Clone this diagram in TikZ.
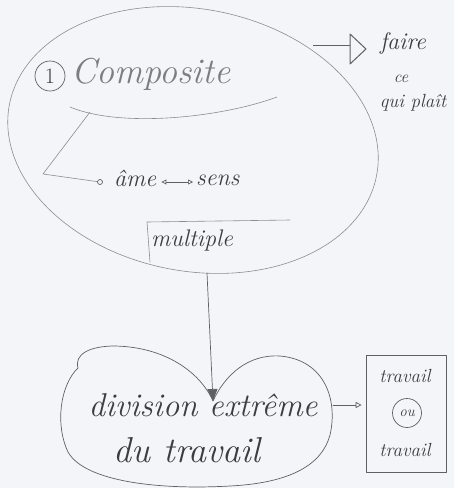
\documentclass[tikz,border=0pt]{standalone}
\usetikzlibrary{arrows.meta}
\definecolor{paper}{RGB}{244,245,249}
\definecolor{pencil}{RGB}{95,95,100}
\definecolor{lightpencil}{RGB}{140,140,145}
\definecolor{ink}{RGB}{60,60,65}
\tikzset{
  hand/.style={text=ink, font=\itshape, inner sep=1pt},
  stroke/.style={draw=pencil, line width=0.7pt, line cap=round, line join=round},
  faint/.style={draw=lightpencil, line width=0.6pt, line cap=round, line join=round},
}
\begin{document}
\begin{tikzpicture}[x=1pt,y=-1pt]
\fill[paper] (0,0) rectangle (454,488);
\useasboundingbox (0,0) rectangle (454,488);

% big tilted ellipse (major axis from upper left to lower right)
\draw[faint] plot[domain=0:360, samples=120, smooth cycle]
  ({193 + 187*cos(\x)*cos(11) - 131*sin(\x)*sin(11)},
   {140 + 187*cos(\x)*sin(11) + 131*sin(\x)*cos(11)});

% numbered title
\node[stroke, circle, minimum size=30pt, inner sep=0pt, hand, font=\fontsize{22}{22}\selectfont] (one) at (50,76) {1};
\node[hand, text=lightpencil!80!ink, font=\fontsize{36}{36}\selectfont\itshape, anchor=west] (comp) at (70,74) {Composite};
\draw[faint] (70,107) .. controls (120,128) and (220,118) .. (277,97);

% branch to âme <-> sens
\coordinate (ua) at (90,112);
\coordinate (bend) at (43,174);
\node[stroke, circle, minimum size=5pt, inner sep=0pt] (dot) at (100,182) {};
\draw[faint] (ua) -- (bend) -- (dot);
\node[hand, font=\fontsize{24}{24}\selectfont\itshape, anchor=west] (ame) at (113,178) {âme};
\node[hand, font=\fontsize{24}{24}\selectfont\itshape, anchor=west] (sens) at (195,180) {sens};
\draw[stroke, {Triangle[open,length=5pt,width=5pt]}-{Triangle[open,length=5pt,width=5pt]}] (ame.east) ++(4,4) coordinate (aa) -- ([xshift=-2pt]sens.west |- aa);

% multiple
\node[hand, font=\fontsize{24}{24}\selectfont\itshape, anchor=west] (mult) at (150,240) {multiple};
\draw[faint] (150,262) -- (147,222) -- (290,220);

% arrow down to the blob
\coordinate (ebot) at (207,273);
\coordinate (cleft) at (213,401);
\draw[stroke, -{Triangle[length=12pt,width=10pt,fill=pencil]}] (ebot) -- (cleft);

% bean shaped blob
\draw[stroke] (cleft) .. controls (200,372) and (165,347) .. (115,346)
  .. controls (90,346) and (74,354) .. (78,368)
  .. controls (60,385) and (55,425) .. (68,452)
  .. controls (85,482) and (160,490) .. (230,486)
  .. controls (290,483) and (322,465) .. (330,435)
  .. controls (338,400) and (325,360) .. (280,356)
  .. controls (248,354) and (225,375) .. (cleft);
\node[hand, font=\fontsize{33}{33}\selectfont\itshape] (div) at (203,405) {division extrême};
\node[hand, font=\fontsize{36}{36}\selectfont\itshape] (dut) at (187,450) {du travail};

% arrow to the right box
\coordinate (bright) at (333,405);
\node[stroke, minimum width=80pt, minimum height=117pt, inner sep=0pt] (tbox) at (406,414) {};
\draw[stroke, -{Triangle[open,length=6pt,width=6pt]}] (bright) -- ([xshift=-4pt]tbox.west |- bright);
\node[hand, font=\fontsize{19}{19}\selectfont\itshape] (t1) at (405,376) {travail};
\node[stroke, circle, minimum size=29pt, inner sep=0pt, hand, font=\fontsize{15}{15}\selectfont\itshape] (ou) at (407,413) {ou};
\node[hand, font=\fontsize{19}{19}\selectfont\itshape] (t2) at (405,450) {travail};

% hollow double arrow to "faire ce qui plaît"
\coordinate (eright) at (313,48);
\coordinate (tipbase) at (350,48);
\draw[stroke, line cap=butt, double=paper, double distance=5pt] (eright) -- (tipbase);
\draw[stroke, fill=paper, line width=1pt] (350,34) -- (366,49) -- (350,64) -- cycle;
\node[hand, font=\fontsize{24}{24}\selectfont\itshape] (faire) at (403,43) {faire};
\node[hand, font=\fontsize{17}{17}\selectfont\itshape] (ce) at (401,79) {ce};
\node[hand, font=\fontsize{19}{19}\selectfont\itshape] (qui) at (413,103) {qui plaît};
\end{tikzpicture}
\end{document}
